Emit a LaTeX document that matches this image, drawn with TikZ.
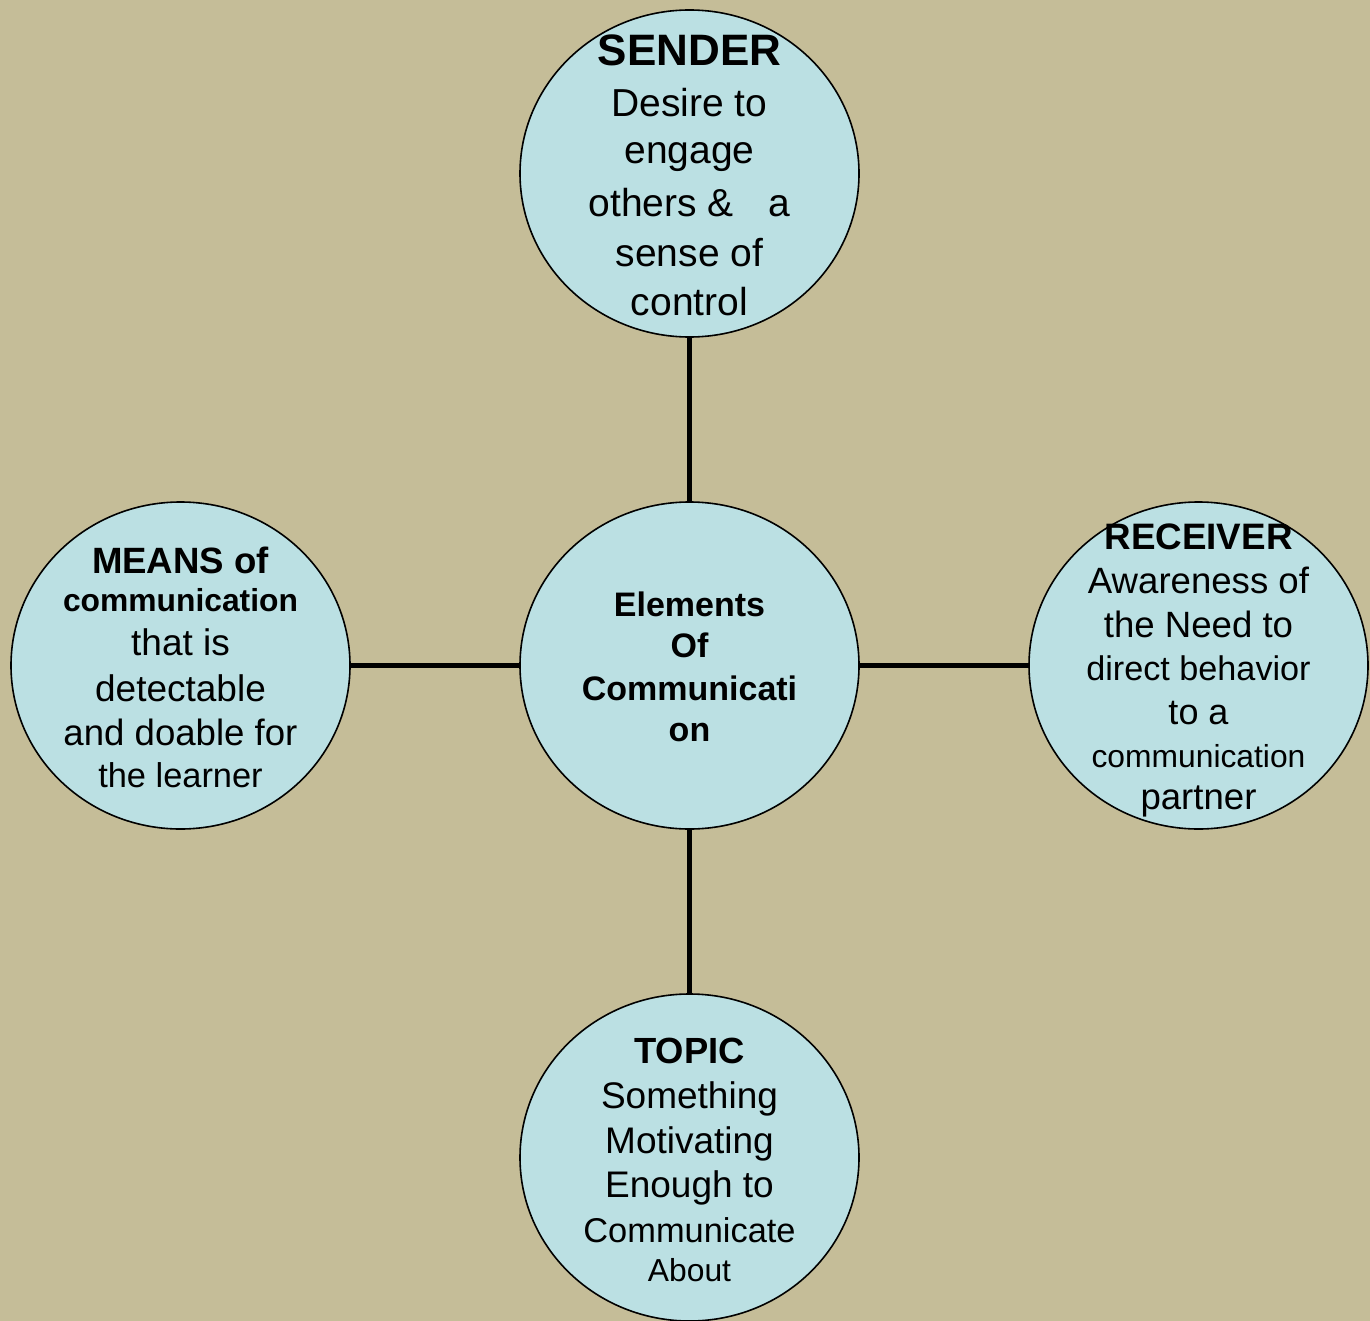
\documentclass[tikz,border=0pt]{standalone}
\usepackage{fontspec}
\setmainfont{Liberation Sans}
\usetikzlibrary{shapes.geometric}
\definecolor{bgcol}{RGB}{197,189,152}
\definecolor{circfill}{RGB}{187,224,227}
\newcommand{\fsz}[1]{\fontsize{#1pt}{#1pt}\selectfont}
\begin{document}
\begin{tikzpicture}[x=0.5pt,y=-0.5pt,
  bubble/.style={ellipse,draw=black,line width=0.8pt,fill=circfill,minimum width=169.5pt,minimum height=163.5pt,inner sep=0pt},
  link/.style={line width=2.4pt,draw=black},
  txt/.style={anchor=base,inner sep=0pt,text=black}]
\useasboundingbox (0,0) rectangle (1370,1321);
\fill[bgcol] (0,0) rectangle (1370,1321);
% circles
\node[bubble] (sender) at (689.5,173.5) {};
\node[bubble] (center) at (689.5,665.5) {};
\node[bubble] (means) at (180.5,665.5) {};
\node[bubble] (receiver) at (1198.5,665.5) {};
\node[bubble] (topic) at (689.5,1157.5) {};
% connectors
\draw[link] (sender.south) -- (center.north);
\draw[link] (center.south) -- (topic.north);
\draw[link] (means.east) -- (center.west);
\draw[link] (center.east) -- (receiver.west);
% sender text
\node[txt,font=\fsz{22}\bfseries] (s1) at (689.5,66) {SENDER};
\node[txt,font=\fsz{19.5}] (s2) at (689.5,117) {Desire to};
\node[txt,font=\fsz{19.5}] (s3) at (689.5,164) {engage};
\node[txt,font=\fsz{19.5}] (s4) at (689.5,217) {others \&\hspace*{12pt} a};
\node[txt,font=\fsz{19.5}] (s5) at (689.5,267) {sense of};
\node[txt,font=\fsz{19.5}] (s6) at (689.5,315) {control};
% center text
\node[txt,font=\fsz{17}\bfseries] (c1) at (689.5,616) {Elements};
\node[txt,font=\fsz{17}\bfseries] (c2) at (689.5,657) {Of};
\node[txt,font=\fsz{17}\bfseries] (c3) at (689.5,700) {Communicati};
\node[txt,font=\fsz{17}\bfseries] (c4) at (689.5,741) {on};
% means text
\node[txt,font=\fsz{18.3}\bfseries] (m1) at (180.5,573) {MEANS of};
\node[txt,font=\fsz{15.9}\bfseries] (m2) at (180.5,611) {communication};
\node[txt,font=\fsz{18.5}] (m3) at (180.5,655) {that is};
\node[txt,font=\fsz{18.5}] (m4) at (180.5,701) {detectable};
\node[txt,font=\fsz{18.3}] (m5) at (180.5,745) {and doable for};
\node[txt,font=\fsz{17.2}] (m6) at (180.5,787) {the learner};
% receiver text
\node[txt,font=\fsz{18.4}\bfseries] (r1) at (1198.5,549) {RECEIVER};
\node[txt,font=\fsz{18.3}] (r2) at (1198.5,593) {Awareness of};
\node[txt,font=\fsz{18.3}] (r3) at (1198.5,637) {the Need to};
\node[txt,font=\fsz{17.1}] (r4) at (1198.5,680) {direct behavior};
\node[txt,font=\fsz{18}] (r5) at (1198.5,724) {to a};
\node[txt,font=\fsz{15.9}] (r6) at (1198.5,767) {communication};
\node[txt,font=\fsz{18.3}] (r7) at (1198.5,809) {partner};
% topic text
\node[txt,font=\fsz{18.2}\bfseries] (t1) at (689.5,1063) {TOPIC};
\node[txt,font=\fsz{18.5}] (t2) at (689.5,1108) {Something};
\node[txt,font=\fsz{18.5}] (t3) at (689.5,1153) {Motivating};
\node[txt,font=\fsz{18.5}] (t4) at (689.5,1197) {Enough to};
\node[txt,font=\fsz{17.2}] (t5) at (689.5,1242) {Communicate};
\node[txt,font=\fsz{15.9}] (t6) at (689.5,1281) {About};
\end{tikzpicture}
\end{document}
